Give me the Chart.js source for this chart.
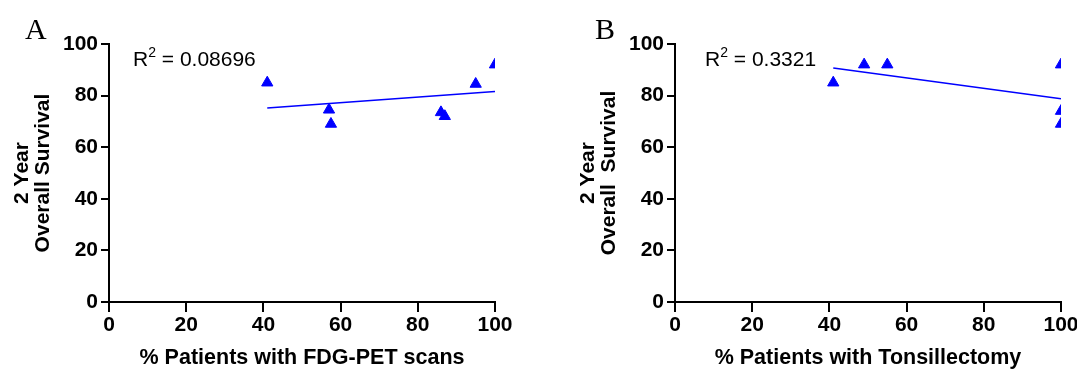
<!DOCTYPE html>
<html>
<head>
<meta charset="utf-8">
<script src="https://cdn.jsdelivr.net/npm/chart.js@4.4.6/dist/chart.umd.min.js"></script>
<style>
  html, body { margin: 0; padding: 0; background: #fff; overflow: hidden; }
  body { width: 1077px; height: 370px; position: relative; }
  .panel { position: absolute; top: 0; width: 538px; height: 370px; }
</style>
</head>
<body>
<div class="panel" style="left:0"><canvas id="chartA" width="538" height="370"></canvas></div>
<div class="panel" style="left:566px"><canvas id="chartB" width="538" height="370"></canvas></div>
<script>
// panel A: FDG-PET use vs 2-year OS
const petPct = [41, 57, 57.5, 86, 87, 95, 100];
const petOS = [85, 74.5, 69, 73.5, 72, 84.5, 92];
const petFitX = [41, 100];
const petFitY = [75.2, 81.6];
const petR2 = '0.08696';

// panel B: tonsillectomy vs 2-year OS
const tonsPct = [41, 49, 55, 100, 100, 100];
const tonsOS = [85, 92, 92, 92, 74, 69];
const tonsFitX = [41, 100];
const tonsFitY = [90.7, 78.8];
const tonsR2 = '0.3321';

const axisTicks = [0, 20, 40, 60, 80, 100];
const BLUE = '#0000ff';
const FONT = '"Liberation Sans", Arial, sans-serif';

const pts = (xs, ys) => xs.map((x, i) => ({ x, y: ys[i] }));

// panel letter + R^2 text, drawn on the canvas after the chart
const labelPlugin = {
  id: 'panelLabels',
  afterDraw(chart) {
    const o = chart.options.plugins.panelLabels;
    const { ctx, chartArea } = chart;
    ctx.save();
    ctx.fillStyle = '#000';
    ctx.textBaseline = 'alphabetic';
    ctx.font = '30px "Liberation Serif", "Times New Roman", serif';
    ctx.fillText(o.letter, o.letterX, 39);
    let x = chartArea.left + o.r2X;
    const base = 66;
    ctx.font = '21px ' + FONT;
    ctx.fillText('R', x, base);
    x += ctx.measureText('R').width;
    ctx.font = '14px ' + FONT;
    ctx.fillText('2', x, base - 9);
    x += ctx.measureText('2').width;
    ctx.font = '21px ' + FONT;
    ctx.fillText(' = ' + o.r2, x, base);
    ctx.restore();
  },
};

function makeChart(id, xs, ys, fitX, fitY, xTitle, yTitle, letter, letterX, r2, r2X) {
  return new Chart(document.getElementById(id), {
    type: 'scatter',
    data: {
      datasets: [
        {
          data: pts(xs, ys),
          pointStyle: 'triangle',
          pointRadius: 6.5,
          pointHoverRadius: 6.5,
          backgroundColor: BLUE,
          borderColor: BLUE,
          borderWidth: 1,
          clip: 0,
        },
        {
          type: 'line',
          data: pts(fitX, fitY),
          borderColor: BLUE,
          borderWidth: 1.5,
          pointRadius: 0,
          fill: false,
        },
      ],
    },
    options: {
      responsive: false,
      animation: false,
      events: [],
      layout: { padding: { top: 44, right: 43, bottom: 0, left: 0 } },
      plugins: {
        legend: { display: false },
        tooltip: { enabled: false },
        panelLabels: { letter, letterX, r2, r2X },
      },
      scales: {
        x: {
          type: 'linear',
          min: 0,
          max: 100,
          afterBuildTicks: (s) => { s.ticks = axisTicks.map((v) => ({ value: v })); },
          afterFit: (s) => { s.height = 68; },
          ticks: { color: '#000', font: { family: FONT, size: 21, weight: 'bold' }, padding: 1 },
          grid: { drawOnChartArea: false, color: '#000', lineWidth: 2, tickLength: 10 },
          border: { color: '#000', width: 2 },
          title: {
            display: true,
            text: xTitle,
            color: '#000',
            font: { family: FONT, size: 21.5, weight: 'bold', lineHeight: 1.05 },
            padding: { top: 0, bottom: 1 },
          },
        },
        y: {
          min: 0,
          max: 100,
          afterBuildTicks: (s) => { s.ticks = axisTicks.map((v) => ({ value: v })); },
          afterFit: (s) => { s.width = 109; },
          ticks: { color: '#000', font: { family: FONT, size: 21, weight: 'bold' }, padding: 3 },
          grid: { drawOnChartArea: false, color: '#000', lineWidth: 2, tickLength: 8 },
          border: { color: '#000', width: 2 },
          title: {
            display: true,
            text: yTitle,
            color: '#000',
            font: { family: FONT, size: 21, weight: 'bold', lineHeight: 1.02 },
            padding: { top: 11, bottom: 0 },
          },
        },
      },
    },
    plugins: [labelPlugin],
  });
}

makeChart('chartA', petPct, petOS, petFitX, petFitY,
  '% Patients with FDG-PET scans', ['2 Year', 'Overall Survival'], 'A', 25, petR2, 24);
makeChart('chartB', tonsPct, tonsOS, tonsFitX, tonsFitY,
  '% Patients with Tonsillectomy', ['2 Year', 'Overall  Survival'], 'B', 29, tonsR2, 30);
</script>
</body>
</html>
